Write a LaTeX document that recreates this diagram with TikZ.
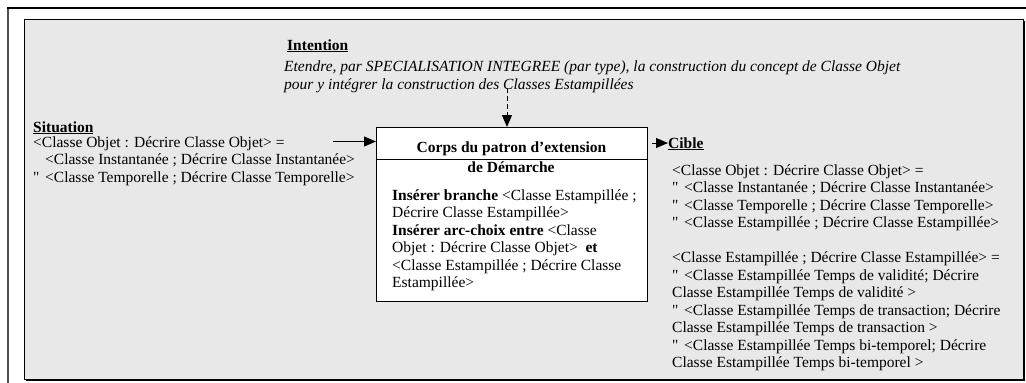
\documentclass[tikz,border=0pt]{standalone}
\usepackage{fontspec}
\setmainfont{Liberation Serif}[Ligatures=TeXOff]
\usetikzlibrary{arrows.meta}
\definecolor{panelgray}{RGB}{232,232,232}
\definecolor{framegray}{RGB}{80,80,80}
\begin{document}
\begin{tikzpicture}[x=1pt,y=-1pt,
  txt/.style={inner sep=0pt, anchor=base west, align=left, font=\fontsize{15.5}{17.5}\selectfont},
  head/.style={inner sep=0pt, anchor=base west, font=\fontsize{15.5}{17.5}\selectfont\bfseries},
  ital/.style={inner sep=0pt, anchor=base west, align=left, font=\fontsize{15.5}{18}\selectfont\itshape},
  title/.style={inner sep=0pt, anchor=base, font=\fontsize{15.5}{17.5}\selectfont\bfseries},
  flow/.style={line width=1pt, -{Triangle[length=12pt,width=10pt]}},
  body/.style={draw, line width=1pt, fill=white}]
\useasboundingbox (0,0) rectangle (1026,383);
\fill[white] (0,0) rectangle (1026,383);
% outer frame
\draw[line width=2.5pt, framegray] (8,383) -- (8,8);
\draw[line width=1.2pt] (6.75,8) -- (1026,8);
% panel with shadow
\fill[black] (25.5,20.5) rectangle (1024.5,380.5);
\draw[fill=panelgray, line width=0.8pt] (24,19) rectangle (1023,379);
% central box
\node[body, minimum width=271pt, minimum height=174pt, anchor=north west] (corps) at (376,127) {};
\coordinate (divL) at (376,159.5);
\coordinate (divR) at (647,159.5);
\draw[line width=1pt] (divL) -- (divR);
\node[title] (t1) at (511.5,152) {Corps du patron d’extension};
\node[title] (t2) at (511,172) {de Démarche};
% multi-line nodes are placed by the baseline of their last line
\node[txt] (body) at (392,287.5) {\textbf{Insérer branche} <Classe Estampillée ;\\
Décrire Classe Estampillée>\\
\textbf{Insérer arc-choix entre} <Classe\\
Objet : Décrire Classe Objet>\ \ \textbf{et}\\
<Classe Estampillée ; Décrire Classe\\
Estampillée>};
% intention
\node[head] (inth) at (287,50) {\underline{Intention}};
\node[ital] (intt) at (284,89) {Etendre, par SPECIALISATION INTEGREE (par type), la construction du concept de Classe Objet\\
pour y intégrer la construction des Classes Estampillées};
% situation
\node[head] (sith) at (33,132) {\underline{Situation}};
\node[txt] (sitt) at (33,182) {<Classe Objet : Décrire Classe Objet> =\\
\hspace*{12pt}<Classe Instantanée ; Décrire Classe Instantanée>\\
"\hspace{5.7pt}<Classe Temporelle ; Décrire Classe Temporelle>};
% cible
\node[head] (cibh) at (668,148) {\underline{Cible}};
\node[txt] (cibt) at (672,367.5) {<Classe Objet : Décrire Classe Objet> =\\
"\hspace{5.7pt}<Classe Instantanée ; Décrire Classe Instantanée>\\
"\hspace{5.7pt}<Classe Temporelle ; Décrire Classe Temporelle>\\
"\hspace{5.7pt}<Classe Estampillée ; Décrire Classe Estampillée>\\[17.5pt]
<Classe Estampillée ; Décrire Classe Estampillée> =\\
"\hspace{5.7pt}<Classe Estampillée Temps de validité; Décrire\\
Classe Estampillée Temps de validité >\\
"\hspace{5.7pt}<Classe Estampillée Temps de transaction; Décrire\\
Classe Estampillée Temps de transaction >\\
"\hspace{5.7pt}<Classe Estampillée Temps bi-temporel; Décrire\\
Classe Estampillée Temps bi-temporel >};
% connectors
\coordinate (sitend) at (333,141.5);
\draw[flow] (sitend) -- (corps.west |- sitend);
\coordinate (cibstart) at (652,143);
\coordinate (cibtip) at (668,143);
\draw[flow] (cibstart) -- (cibtip);
\coordinate (inttop) at (507,88);
\draw[flow, dashed, dash pattern=on 5pt off 3pt] (inttop) -- (inttop |- corps.north);
\end{tikzpicture}
\end{document}
